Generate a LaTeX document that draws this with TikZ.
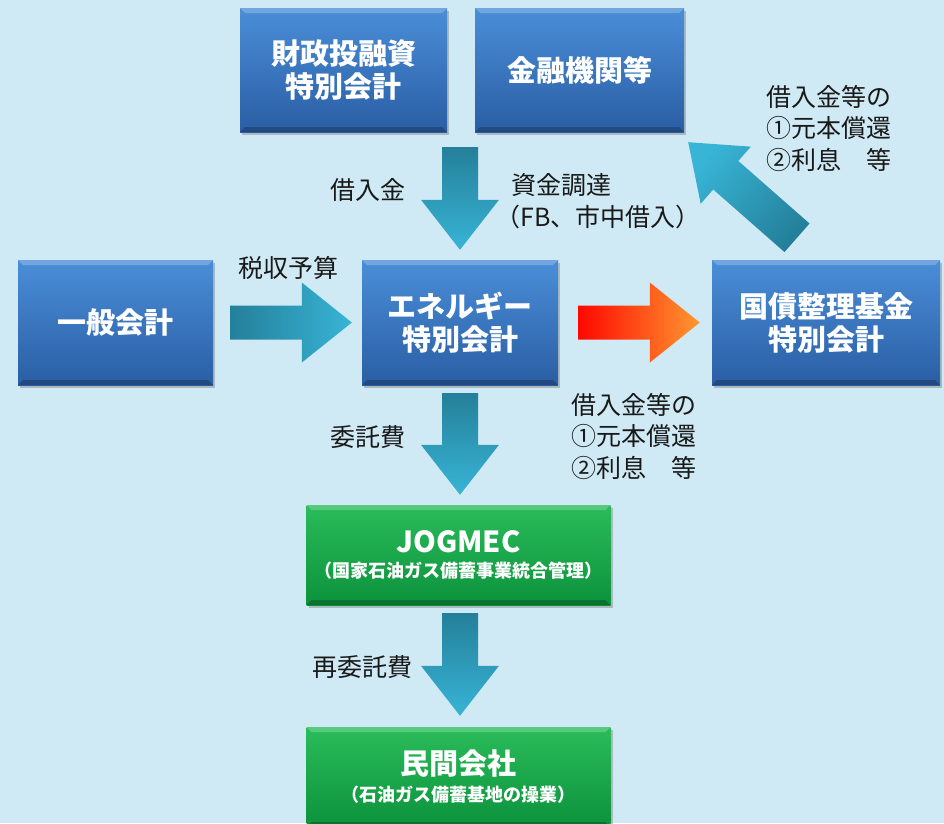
\documentclass[tikz,border=0pt]{standalone}
\usepackage{fontspec}
\setmainfont{Noto Sans CJK JP}
\usetikzlibrary{calc,shadows}
\definecolor{bgblue}{RGB}{208,234,245}
\definecolor{boxtop}{RGB}{74,142,216}
\definecolor{boxbot}{RGB}{42,94,164}
\definecolor{grntop}{RGB}{42,188,90}
\definecolor{grnbot}{RGB}{12,146,60}
\definecolor{tealdark}{RGB}{36,128,154}
\definecolor{teallight}{RGB}{56,180,214}
\definecolor{arrred}{RGB}{255,8,0}
\definecolor{arrorange}{RGB}{255,152,48}
\newcommand\ppb{path picture bounding box}
\newcommand\blockarrow[5]{%
  \coordinate (hb) at ($(#3)!50pt!(#2)$);
  \shade[#1] ($(#2)!#4!90:(#3)$) -- ($(hb)!#4!90:(#3)$) -- ($(hb)!#5!90:(#3)$)
    -- (#3) -- ($(hb)!#5!-90:(#3)$) -- ($(hb)!#4!-90:(#3)$) -- ($(#2)!#4!-90:(#3)$) -- cycle;}
\tikzset{
  bevel/.style={path picture={
    \fill[white,opacity=.22] (\ppb.north west) -- (\ppb.north east)
      -- ([shift={(-5pt,-5pt)}]\ppb.north east) -- ([shift={(5pt,-5pt)}]\ppb.north west) -- cycle;
    \fill[black,opacity=.22] (\ppb.south west) -- (\ppb.south east)
      -- ([shift={(-5pt,5pt)}]\ppb.south east) -- ([shift={(5pt,5pt)}]\ppb.south west) -- cycle;}},
  bluebox/.style={bevel,top color=boxtop,bottom color=boxbot,
    drop shadow={shadow xshift=2pt,shadow yshift=-3pt,opacity=.45},
    text=white,font=\bfseries\fontsize{29}{33}\selectfont,align=center,inner sep=0pt},
  greenbox/.style={bluebox,top color=grntop,bottom color=grnbot},
  lbl/.style={font=\fontsize{25}{31.5}\selectfont,text=black!90,inner sep=0pt},
  tealarrow/.style={top color=teallight,bottom color=tealdark},
  redarrow/.style={left color=arrred,right color=arrorange}
}
\begin{document}
\begin{tikzpicture}[x=1pt,y=-1pt]
  \fill[bgblue] (0,0) rectangle (944,823);
  \useasboundingbox (0,0) rectangle (944,823);
  \node[bluebox,minimum width=207,minimum height=124] (zai) at (343.5,70) {財政投融資\\特別会計};
  \node[bluebox,minimum width=209,minimum height=124] (kin) at (579.5,70) {金融機関等};
  \node[bluebox,minimum width=195,minimum height=125] (ippan) at (115.5,322.5) {一般会計};
  \node[bluebox,minimum width=196,minimum height=125] (ene) at (460,322.5) {エネルギー\\特別会計};
  \node[bluebox,minimum width=228,minimum height=125] (kokusai) at (826,322.5) {国債整理基金\\特別会計};
  \node[greenbox,minimum width=304,minimum height=100] (jog) at (458.5,555)
    {{\fontsize{29}{30}\selectfont JOGMEC}\\[-8pt]{\fontsize{18}{20}\selectfont （国家石油ガス備蓄事業統合管理）}};
  \node[greenbox,minimum width=304,minimum height=100] (min) at (458.5,777)
    {{\fontsize{29}{31}\selectfont 民間会社}\\[-6pt]{\fontsize{18}{20}\selectfont （石油ガス備蓄基地の操業）}};

  \coordinate (a1s) at ($(zai.south -| ene.north)+(0,15)$);
  \coordinate (a1e) at ($(ene.north)+(0,-10)$);
  \coordinate (a2s) at ($(ippan.east)+(17,0)$);
  \coordinate (a2e) at ($(ene.west)+(-10,0)$);
  \coordinate (a3s) at ($(ene.east)+(20,0)$);
  \coordinate (a3e) at ($(kokusai.west)+(-12,0)$);
  \coordinate (a4s) at ($(ene.south)+(0,8)$);
  \coordinate (a4e) at ($(jog.north -| ene.south)+(0,-10)$);
  \coordinate (a5s) at ($(jog.south -| ene.south)+(0,8)$);
  \coordinate (a5e) at ($(min.north -| ene.south)+(0,-11)$);
  \coordinate (a6s) at ($(kokusai.north)+(-29,-22)$);
  \coordinate (a6e) at ($(kin.south east)+(4,10)$);
  \blockarrow{tealarrow,shading angle=-180}{a1s}{a1e}{18pt}{39pt}
  \blockarrow{tealarrow,shading angle=-90}{a2s}{a2e}{17pt}{40pt}
  \blockarrow{redarrow}{a3s}{a3e}{17pt}{40pt}
  \blockarrow{tealarrow,shading angle=-180}{a4s}{a4e}{18pt}{39pt}
  \blockarrow{tealarrow,shading angle=-180}{a5s}{a5e}{18pt}{39pt}
  \blockarrow{tealarrow,shading angle=48.6}{a6s}{a6e}{19pt}{38pt}

  \node[lbl] (kariire) at (368,190) {借入金};
  \node[lbl,anchor=west,align=left] (chotatsu) at (495,201) {\hspace*{.65em}資金調達\\（FB、市中借入）};
  \node[lbl] (zeishu) at (288,268) {税収予算};
  \node[lbl,anchor=west,align=left] (hensai1) at (766,128.5) {借入金等の\\①元本償還\\②利息　等};
  \node[lbl] (itaku) at (368,437) {委託費};
  \node[lbl,anchor=west,align=left] (hensai2) at (571,436) {借入金等の\\①元本償還\\②利息　等};
  \node[lbl] (saiitaku) at (362,667) {再委託費};
\end{tikzpicture}
\end{document}
